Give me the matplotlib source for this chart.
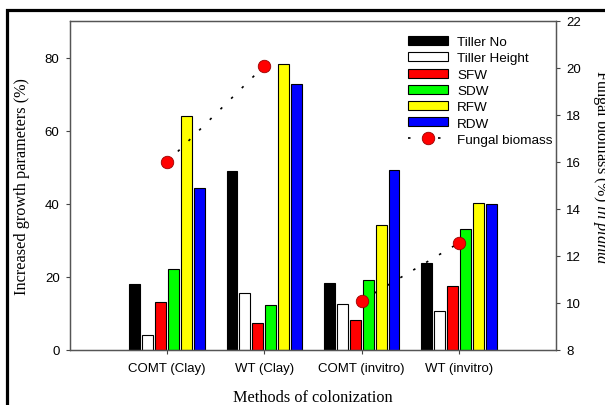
import matplotlib
matplotlib.use("Agg")
import matplotlib.pyplot as plt
import numpy as np
from matplotlib.patches import Rectangle
from matplotlib.lines import Line2D

# data
methods = ["COMT (Clay)", "WT (Clay)", "COMT (invitro)", "WT (invitro)"]
tiller_no = [18.0, 48.9, 18.3, 23.9]
tiller_height = [4.1, 15.7, 12.7, 10.6]
sfw = [13.0, 7.3, 8.3, 17.5]
sdw = [22.1, 12.4, 19.2, 33.2]
rfw = [63.9, 78.2, 34.2, 40.2]
rdw = [44.3, 72.9, 49.2, 39.9]
fungal_biomass = [16.0, 20.1, 10.1, 12.55]

series = [
    ("Tiller No", tiller_no, "black"),
    ("Tiller Height", tiller_height, "white"),
    ("SFW", sfw, "#ff0000"),
    ("SDW", sdw, "#00ff00"),
    ("RFW", rfw, "#ffff00"),
    ("RDW", rdw, "#0000ff"),
]

plt.rcParams["font.family"] = ["Liberation Sans", "DejaVu Sans"]
plt.rcParams["mathtext.fontset"] = "custom"
plt.rcParams["mathtext.rm"] = "Liberation Serif"
plt.rcParams["mathtext.it"] = "Liberation Serif:italic"

W, H = 605, 406
fig = plt.figure(figsize=(6.05, 4.06), dpi=100)
ax = fig.add_axes([70 / W, 1 - 351 / H, (556 - 70) / W, (351 - 22) / H])

x = np.arange(1, len(methods) + 1)
pitch = 0.1333
width = 0.113
bars = []
for i, (name, vals, col) in enumerate(series):
    b = ax.bar(x + (i - 2.5) * pitch, vals, width, color=col, edgecolor="black",
               linewidth=0.8, label=name, zorder=2)
    bars.append(b)

ax.set_xlim(0, 5)
ax.set_ylim(0, 90)
ax.set_xticks(x)
ax.set_xticklabels(methods, fontsize=9.5)
ax.set_yticks([0, 20, 40, 60, 80])
ax.tick_params(axis="y", labelsize=9.5, length=3, pad=4.5, color="#444")
ax.tick_params(axis="x", length=3, pad=6, color="#444")
for s in ax.spines.values():
    s.set_color("#555")
    s.set_linewidth(0.9)

ax2 = ax.twinx()
ax2.set_ylim(8, 22)
ax2.set_yticks(range(8, 23, 2))
ax2.tick_params(axis="y", labelsize=9.5, length=3, pad=4.5, color="#444")
for s in ax2.spines.values():
    s.set_color("#555")
    s.set_linewidth(0.9)

dots = dict(linestyle=(0, (1.5, 7.5)), linewidth=1.2, color="black",
            marker="o", markersize=9, markerfacecolor="#ff0000",
            markeredgecolor="#990000", markeredgewidth=0.6, zorder=3)
# the reference links the points pairwise
ax2.plot(x[:2], fungal_biomass[:2], **dots)
ax2.plot(x[2:], fungal_biomass[2:], **dots)

handles = bars + [Line2D([], [], **dots)]
labels = [s[0] for s in series] + ["Fungal biomass"]
fig.legend(handles, labels, loc="upper left", bbox_to_anchor=(408 / W, 1 - 37 / H),
           frameon=False, fontsize=9.7, handlelength=3.0, handleheight=0.65,
           handletextpad=0.65, labelspacing=0.3, borderpad=0, borderaxespad=0,
           numpoints=1)

fig.text(22.5 / W, 1 - 187 / H, "Increased growth parameters (%)",
         family="Liberation Serif", fontsize=11.7, rotation=90,
         ha="center", va="center")
fig.text(313 / W, 1 - 398 / H, "Methods of colonization",
         family="Liberation Serif", fontsize=11.7, ha="center", va="center")
fig.text(601 / W, 1 - 167 / H, r"Fungal biomass (%) $\it{in\ planta}$",
         family="Liberation Serif", fontsize=11.7, rotation=270,
         ha="center", va="center")

# thick frame from the source page
fig.add_artist(Rectangle((7 / W, -0.1), 1.2, 1 - 10.5 / H + 0.1,
                         transform=fig.transFigure, fill=False,
                         edgecolor="black", linewidth=2.3, clip_on=False))

fig.savefig("out.png", dpi=100)
